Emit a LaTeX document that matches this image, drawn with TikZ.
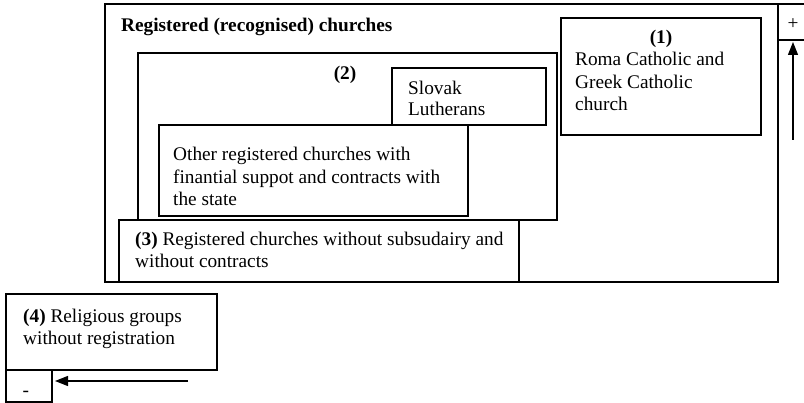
\documentclass[tikz,border=0pt]{standalone}
\usepackage{fontspec}
\setmainfont{Liberation Serif}
\usetikzlibrary{arrows.meta}
\begin{document}
\begin{tikzpicture}[x=1pt,y=-1pt,
  box/.style={draw,line width=1.2pt},
  txt/.style={anchor=base west,inner sep=0pt,font=\fontsize{19.3}{22}\selectfont},
  ctxt/.style={anchor=base,inner sep=0pt,font=\fontsize{19.3}{22}\selectfont},
  arr/.style={line width=1.2pt,-{Triangle[length=13pt,width=10pt]}}]
\useasboundingbox (0,0) rectangle (804,403);
% outer box and + cell
\draw[box] (105,4) rectangle (778,282);
\draw[box] (778,4) -- (806,4);
\draw[box] (778,40) -- (806,40);
% (1)
\draw[box] (561,18) rectangle (761,135);
% (2)
\draw[box] (138,53) rectangle (557,220);
% Slovak
\draw[box] (392,68) rectangle (546,125);
% Other
\draw[box] (159,125) rectangle (468,216);
% (3)
\draw[box] (119,220) rectangle (519,282);
% (4)
\draw[box] (6,294) rectangle (217,370);
\draw[box] (6,370) rectangle (52,402);
% texts
\node[txt] (title) at (121,32) {\bfseries Registered (recognised) churches};
\node[ctxt] (l2) at (345,80) {\bfseries (2)};
\node[txt] (s1) at (408,95) {Slovak};
\node[txt] (s2) at (408,116) {Lutherans};
\node[ctxt] (l1) at (661,44) {\bfseries (1)};
\node[txt] (r1) at (575,66) {Roma Catholic and};
\node[txt] (r2) at (575,89) {Greek Catholic};
\node[txt] (r3) at (575,111) {church};
\node[txt] (o1) at (173,161) {Other registered churches with};
\node[txt] (o2) at (173,184) {finantial suppot and contracts with};
\node[txt] (o3) at (173,206) {the state};
\node[txt] (t1) at (135,246) {\textbf{(3)} Registered churches without subsudairy and};
\node[txt] (t2) at (135,268) {without contracts};
\node[txt] (f1) at (23,323) {\textbf{(4)} Religious groups};
\node[txt] (f2) at (23,345) {without registration};
\node[ctxt] (plus) at (793,30) {+};
\node[txt] (minus) at (22.5,396.5) {-};
% arrows
\coordinate (ua) at (793,140);
\coordinate (ub) at (793,42);
\coordinate (la) at (188,381);
\coordinate (lb) at (55,381);
\draw[arr] (ua) -- (ub);
\draw[arr] (la) -- (lb);
\end{tikzpicture}
\end{document}
